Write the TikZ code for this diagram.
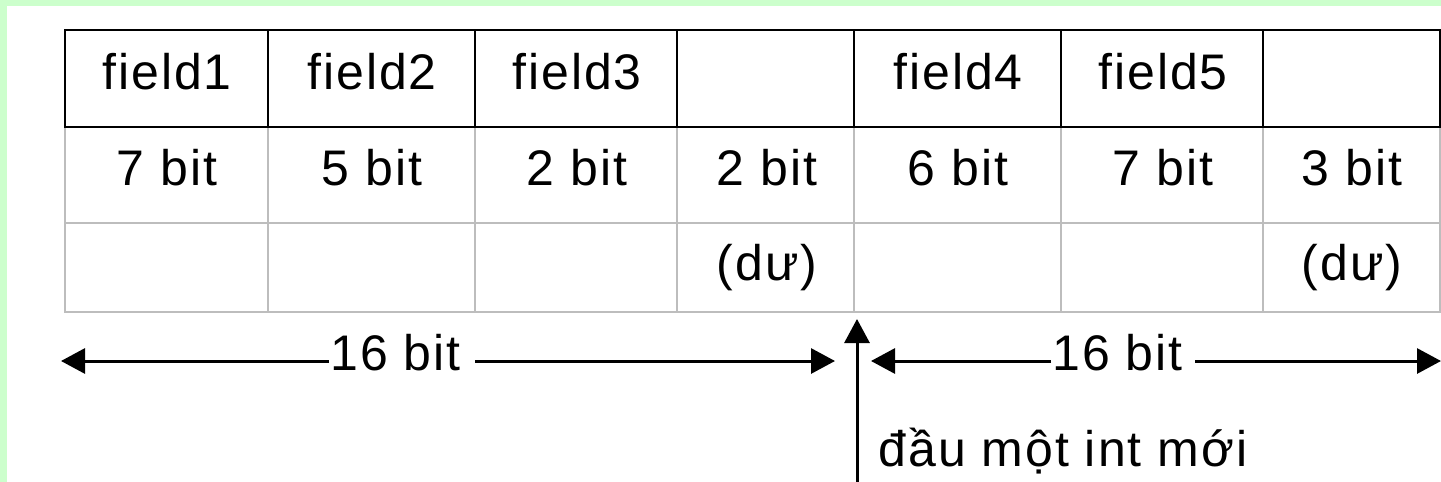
\documentclass[tikz,border=0pt]{standalone}
\usepackage{fontspec}
\setmainfont[LetterSpace=4]{Liberation Sans}
\usetikzlibrary{arrows.meta}
\definecolor{bggreen}{HTML}{CCFFCC}
\definecolor{gridgray}{HTML}{BDBDBD}
\begin{document}
\begin{tikzpicture}[x=0.5pt,y=-0.5pt,
  lbl/.style={anchor=base,inner sep=0pt,font=\fontsize{25}{30}\selectfont},
  txt/.style={anchor=base west,inner sep=0pt,font=\fontsize{25}{30}\selectfont},
  blk/.style={line width=1pt,draw=black},
  gry/.style={line width=1pt,draw=gridgray},
  dim/.style={line width=1.5pt,-{Triangle[length=12pt,width=12.5pt]}}]
\useasboundingbox (0,0) rectangle (1441,482);
\fill[bggreen] (0,0) rectangle (1441,482);
\fill[white] (7,6) rectangle (1441,482);
% grid lower rows
\draw[gry] (65,127) rectangle (1440,312);
\draw[gry] (65,223) -- (1440,223);
\foreach \x in {268,475,677,854,1061,1263} \draw[gry] (\x,127) -- (\x,312);
% top row
\draw[blk] (65,30) rectangle (1440,127);
\foreach \x in {268,475,677,854,1061,1263} \draw[blk] (\x,30) -- (\x,127);
% labels row 1
\node[lbl] (f1) at (167,89) {field1};
\node[lbl] (f2) at (372,89) {field2};
\node[lbl] (f3) at (577,89) {field3};
\node[lbl] (f4) at (958,89) {field4};
\node[lbl] (f5) at (1163,89) {field5};
% row 2
\node[lbl] (b1) at (167,185) {7 bit};
\node[lbl] (b2) at (372,185) {5 bit};
\node[lbl] (b3) at (577,185) {2 bit};
\node[lbl] (b4) at (767,185) {2 bit};
\node[lbl] (b5) at (958,185) {6 bit};
\node[lbl] (b6) at (1163,185) {7 bit};
\node[lbl] (b7) at (1352,185) {3 bit};
% row 3
\node[lbl] (d1) at (767,280) {(dư)};
\node[lbl] (d2) at (1352,280) {(dư)};
% dimension arrows
\node[txt] (s1) at (330,370) {16 bit};
\node[txt] (s2) at (1052,370) {16 bit};
\coordinate (a1) at (329,361);
\coordinate (a2) at (475,361);
\coordinate (a3) at (1051,361);
\coordinate (a4) at (1195,361);
\coordinate (l1) at (61,361);
\coordinate (r1) at (835,361);
\coordinate (l2) at (871,361);
\coordinate (r2) at (1441,361);
\draw[dim] (a1) -- (l1);
\draw[dim] (a2) -- (r1);
\draw[dim] (a3) -- (l2);
\draw[dim] (a4) -- (r2);
% start marker
\coordinate (vb) at (857,482);
\coordinate (vt) at (857,319);
\draw[dim] (vb) -- (vt);
\node[txt] (nt) at (878,466) {đầu một int mới};
\end{tikzpicture}
\end{document}
